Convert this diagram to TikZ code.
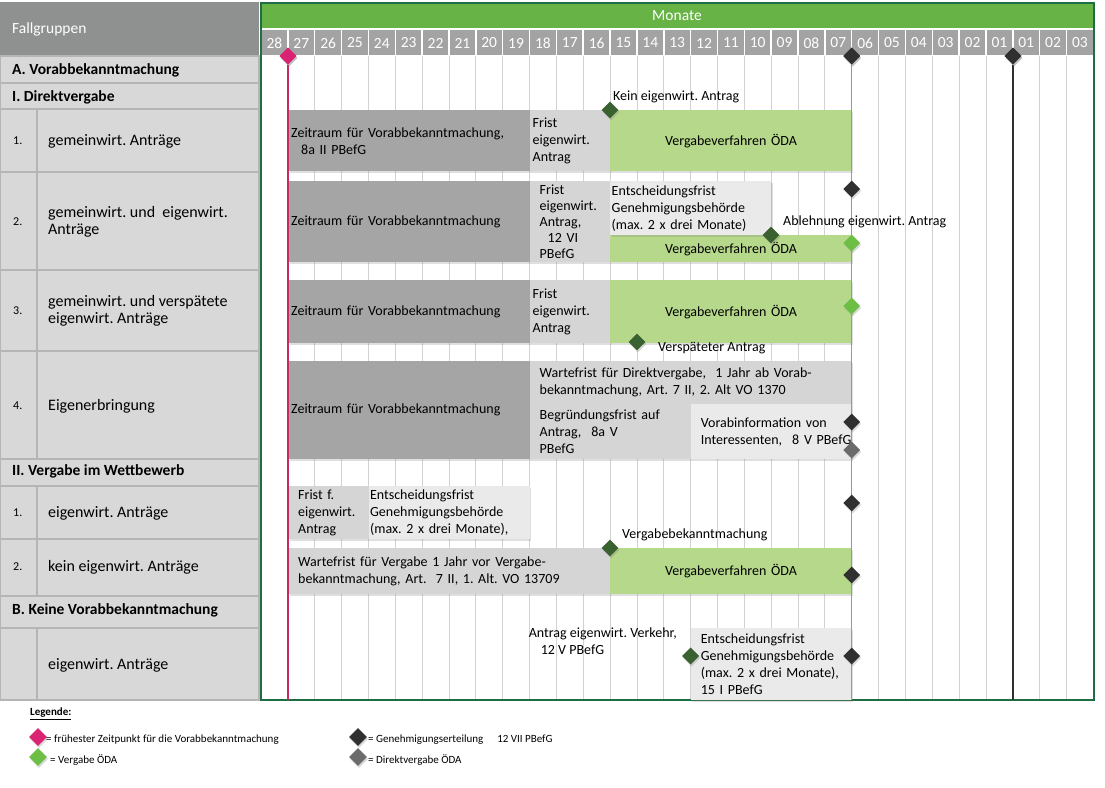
\documentclass[tikz,border=0pt]{standalone}
\usepackage{fontspec}
\setmainfont{Carlito}
\usetikzlibrary{shapes.geometric,shadows}
\frenchspacing

\definecolor{hdgray}{HTML}{8F9191}
\definecolor{mongray}{HTML}{A3A3A3}
\definecolor{hdgreen}{HTML}{67B346}
\definecolor{framegreen}{HTML}{1F6E43}
\definecolor{rowfill}{HTML}{D8D8D8}
\definecolor{rowline}{HTML}{B5B5B5}
\definecolor{gridline}{HTML}{D2D2D2}
\definecolor{bardark}{HTML}{A5A5A5}
\definecolor{barlight}{HTML}{D5D5D5}
\definecolor{barpale}{HTML}{EAEAEA}
\definecolor{bargreen}{HTML}{B5D88A}
\definecolor{mspink}{HTML}{DA2372}
\definecolor{msdark}{HTML}{303030}
\definecolor{msgreen}{HTML}{3A6231}
\definecolor{mslight}{HTML}{6CBE45}
\definecolor{msgray}{HTML}{6B6B6B}
\definecolor{pinkline}{HTML}{C8295F}

\newcommand{\bartext}{\fontsize{14}{17}\selectfont}
\newcommand{\lefttext}{\fontsize{16}{17}\selectfont}
\newcommand{\headtext}{\fontsize{15.5}{17}\selectfont}
\newcommand{\numtext}{\fontsize{12}{13}\selectfont}
\newcommand{\legtext}{\fontsize{11}{12}\selectfont}

\begin{document}
\begin{tikzpicture}[x=1pt, y=-1pt,
    bar/.style={anchor=north west, inner xsep=3pt, inner ysep=0pt, align=left, font=\bartext, fill=#1,
      drop shadow={shadow xshift=1.5pt, shadow yshift=-1.5pt, opacity=.25}},
    indent/.style={inner xsep=10pt},
    ms/.style={diamond, fill=#1, minimum size=17pt, inner sep=0pt,
      drop shadow={shadow xshift=1pt, shadow yshift=-2pt, opacity=.3}},
    lbl/.style={font=\bartext, inner sep=0pt, anchor=west},
    lefthead/.style={font=\headtext\bfseries, inner sep=0pt, anchor=west},
    leftrow/.style={font=\lefttext, inner sep=0pt, anchor=west, align=left},
    num/.style={font=\numtext, inner sep=0pt, anchor=west},
    legend/.style={font=\legtext, inner sep=0pt, anchor=west}]
  \useasboundingbox (0,0) rectangle (1105,787);

  % Left panel: Fallgruppen
  \fill[hdgray] (0,2) rectangle (259,56);
  \node[font=\headtext, text=white, inner sep=0pt, anchor=west] (fall) at (12,29) {Fallgruppen};
  \fill[rowfill] (0,56) rectangle (259,700);
  \foreach \y in {83,109,172,270,351,459,486,539,596,628}
    \draw[rowline, line width=1.5pt] (0,\y) -- (259,\y);
  \draw[rowline, line width=1.5pt] (37,109) -- (37,459) (37,486) -- (37,596) (37,628) -- (37,700);
  \draw[rowline, line width=1.5pt] (0,56) rectangle (259,700);

  \node[lefthead] (hA) at (12,70) {A. Vorabbekanntmachung};
  \node[lefthead] (hI) at (12,97) {I. Direktvergabe};
  \node[num] (n1) at (13,141) {1.};
  \node[leftrow] (t1) at (48,141) {gemeinwirt. Anträge};
  \node[num] (n2) at (13,222) {2.};
  \node[leftrow] (t2) at (48,222) {gemeinwirt. und\ \ eigenwirt.\\Anträge};
  \node[num] (n3) at (13,311) {3.};
  \node[leftrow] (t3) at (48,311) {gemeinwirt. und verspätete\\eigenwirt. Anträge};
  \node[num] (n4) at (13,406) {4.};
  \node[leftrow] (t4) at (48,406) {Eigenerbringung};
  \node[lefthead] (hII) at (12,471) {II. Vergabe im Wettbewerb};
  \node[num] (n5) at (13,513) {1.};
  \node[leftrow] (t5) at (48,513) {eigenwirt. Anträge};
  \node[num] (n6) at (13,567) {2.};
  \node[leftrow] (t6) at (48,567) {kein eigenwirt. Anträge};
  \node[lefthead] (hB) at (12,610) {B. Keine Vorabbekanntmachung};
  \node[leftrow] (t7) at (48,665) {eigenwirt. Anträge};

  % Right panel: Monate
  \fill[hdgreen] (262,4) rectangle (1093,28);
  \node[font=\headtext, text=white, inner sep=0pt] (monate) at (677,16) {Monate};
  \fill[mongray] (262,30) rectangle (1093,55);
  \foreach \k in {1,...,30} {
    \draw[white, line width=1.5pt] ({261+26.85*\k},30) -- ({261+26.85*\k},55);
    \draw[gridline, line width=0.8pt] ({261+26.85*\k},56) -- ({261+26.85*\k},700);
  }
  \foreach \m [count=\i from 0] in {28,27,26,25,24,23,22,21,20,19,18,17,16,15,14,13,12,11,10,09,08,07,06,05,04,03,02,01,01,02,03}
    \node[font=\headtext, text=white, inner sep=0pt] (m\i) at ({261+26.85*(\i+0.5)},43) {\m};
  \draw[framegreen, line width=1.2pt] (261,3) rectangle (1094,700);

  % Row I.1
  \node[bar=bardark, text width=235.5pt, minimum height=61pt] (zr1) at (288,110) {Zeitraum für Vorabbekanntmachung,\\\hspace*{10pt}8a II PBefG};
  \node[bar=barlight, text width=74.5pt, minimum height=61pt] (fr1) at (529.5,110) {Frist\\eigenwirt.\\Antrag};
  \node[bar=bargreen, text width=235.7pt, minimum height=61pt, align=center] (vg1) at (610,110) {Vergabeverfahren ÖDA};

  % Row I.2
  \node[bar=bardark, text width=235.5pt, minimum height=81pt] (zr2) at (288,181) {Zeitraum für Vorabbekanntmachung};
  \node[bar=barlight, indent, text width=60.5pt, minimum height=81pt, font=\fontsize{14}{16}\selectfont] (fr2) at (529.5,181) {Frist\\eigenwirt.\\Antrag,\\\hspace*{8pt}12 VI\\PBefG};
  \node[bar=bargreen, text width=235.7pt, minimum height=27pt, align=center] (vg2) at (610,235) {Vergabeverfahren ÖDA};
  \node[bar=barpale, inner xsep=1.5pt, text width=158pt, minimum height=54pt] (ef2) at (610,181) {Entscheidungsfrist\\Genehmigungsbehörde\\(max. 2 x drei Monate)};

  % Row I.3
  \node[bar=bardark, text width=235.5pt, minimum height=63pt] (zr3) at (288,280) {Zeitraum für Vorabbekanntmachung};
  \node[bar=barlight, text width=74.5pt, minimum height=63pt] (fr3) at (529.5,280) {Frist\\eigenwirt.\\Antrag};
  \node[bar=bargreen, text width=235.7pt, minimum height=63pt, align=center] (vg3) at (610,280) {Vergabeverfahren ÖDA};

  % Row I.4
  \node[bar=bardark, text width=235.5pt, minimum height=98pt] (zr4) at (288,361) {Zeitraum für Vorabbekanntmachung};
  \node[bar=barlight, indent, text width=302.2pt, minimum height=43pt] (wf4) at (529.5,361) {Wartefrist für Direktvergabe,\ \ 1 Jahr ab Vorab-\\bekanntmachung, Art. 7 II, 2. Alt VO 1370};
  \node[bar=barlight, indent, text width=141.1pt, minimum height=55pt] (bg4) at (529.5,404) {Begründungsfrist auf\\Antrag,\hspace*{10pt}8a V\\PBefG};
  \node[bar=barpale, indent, text width=141.1pt, minimum height=55pt] (vi4) at (690.6,404) {Vorabinformation von\\\mbox{Interessenten,\hspace*{10pt}8 V PBefG}};

  % Row II.1
  \node[bar=barlight, indent, text width=60.4pt, minimum height=53pt] (fr5) at (288,486) {Frist f.\\eigenwirt.\\Antrag};
  \node[bar=barpale, inner xsep=1.5pt, text width=158.1pt, minimum height=53pt] (ef5) at (368.4,486) {Entscheidungsfrist\\Genehmigungsbehörde\\(max. 2 x drei Monate),};

  % Row II.2
  \node[bar=barlight, indent, text width=302pt, minimum height=46pt] (wf6) at (288,548) {Wartefrist für Vergabe 1 Jahr vor Vergabe-\\bekanntmachung, Art.\ \ 7 II, 1. Alt. VO 13709};
  \node[bar=bargreen, text width=235.7pt, minimum height=46pt, align=center] (vg6) at (610,548) {Vergabeverfahren ÖDA};

  % Row B
  \node[bar=barpale, indent, text width=141.1pt, minimum height=72pt] (ef7) at (690.6,628) {Entscheidungsfrist\\Genehmigungsbehörde\\(max. 2 x drei Monate),\\15 I PBefG};

  % Milestones and lines
  \node[ms=mspink] (msA) at (288,56) {};
  \node[ms=msdark] (msV) at (851.7,56) {};
  \node[ms=msdark] (msW) at (1013,56) {};
  \coordinate (endA) at (288,700);
  \coordinate (endV) at (851.7,700);
  \coordinate (endW) at (1013,700);
  \draw[pinkline, line width=1.5pt] (msA) -- (endA);
  \draw[mslight, line width=1.5pt] (msV) -- (endV);
  \draw[msdark, line width=1.5pt] (msW) -- (endW);
  \node[ms=mspink] at (msA) {};
  \node[ms=msdark] at (msV) {};
  \node[ms=msdark] at (msW) {};

  \node[ms=msgreen] (kein) at (610,110) {};
  \node[lbl] (keinl) at (613,97) {Kein eigenwirt. Antrag};
  \node[ms=msdark] (g2) at (851.7,189) {};
  \node[ms=msgreen] (abl) at (771,235) {};
  \node[lbl] (abll) at (783,222) {Ablehnung eigenwirt. Antrag};
  \node[ms=mslight] (v2) at (851.7,243) {};
  \node[ms=mslight] (v3) at (851.7,306) {};
  \node[ms=msgreen] (versp) at (637,342) {};
  \node[lbl] (verspl) at (658,348) {Verspäteter Antrag};
  \node[ms=msdark] (g4) at (851.7,422) {};
  \node[ms=msgray] (d4) at (851.7,450) {};
  \node[ms=msdark] (g5) at (851.7,503) {};
  \node[ms=msgreen] (vbk) at (610,548) {};
  \node[lbl] (vbkl) at (622,535) {Vergabebekanntmachung};
  \node[ms=msdark] (g6) at (851.7,575) {};
  \node[ms=msgreen] (antr) at (690.6,656) {};
  \node[lbl, anchor=east, align=left] (antrl) at (677,641) {Antrag eigenwirt. Verkehr,\\\hspace*{12pt}12 V PBefG};
  \node[ms=msdark] (g7) at (851.7,656) {};

  % Legend
  \node[legend, font=\legtext\bfseries] (leg) at (30,714) {\underline{Legende:}};
  \node[ms=mspink, minimum size=18pt] (lg1) at (38,737) {};
  \node[legend] (lg1t) at (46,740) {= frühester Zeitpunkt für die Vorabbekanntmachung};
  \node[ms=mslight, minimum size=18pt] (lg2) at (38,757) {};
  \node[legend] (lg2t) at (50,760) {= Vergabe ÖDA};
  \node[ms=msdark, minimum size=18pt] (lg3) at (358,737) {};
  \node[legend] (lg3t) at (368,740) {= Genehmigungserteilung\hspace*{14pt}12 VII PBefG};
  \node[ms=msgray, minimum size=18pt] (lg4) at (358,757) {};
  \node[legend] (lg4t) at (368,760) {= Direktvergabe ÖDA};
\end{tikzpicture}
\end{document}
